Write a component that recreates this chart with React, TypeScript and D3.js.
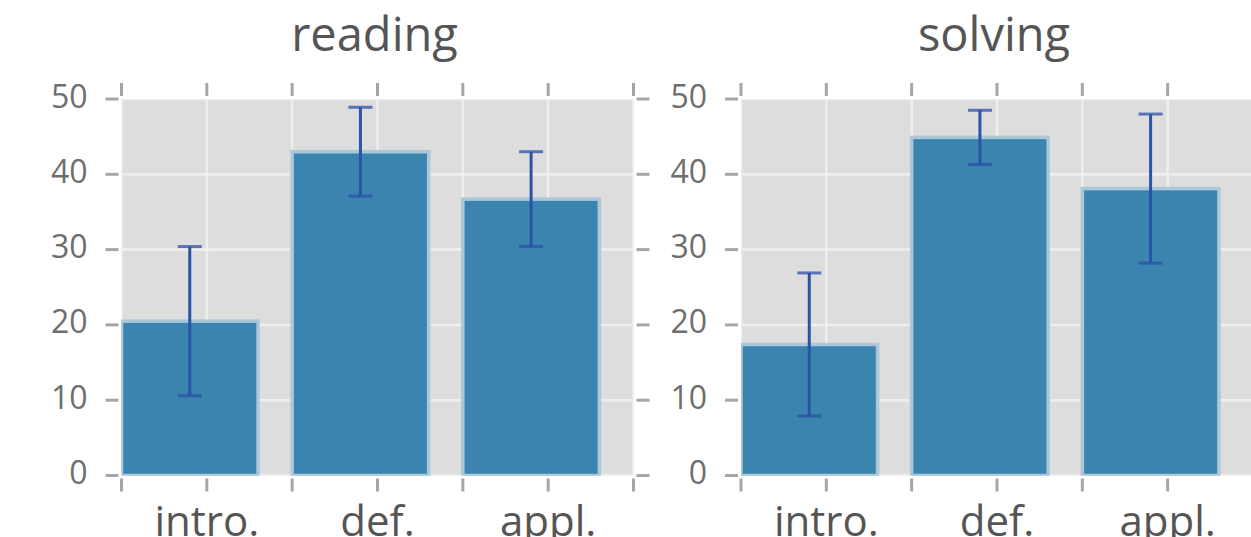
import React from "react";
import * as d3 from "d3";

// Study phases on the x axis
const categories = ["intro.", "def.", "appl."];

// Mean score and error (half-width) per phase
const readingMeans = [20.5, 43.0, 36.7];
const readingErrors = [9.9, 5.9, 6.3];
const solvingMeans = [17.4, 44.9, 38.1];
const solvingErrors = [9.5, 3.6, 9.9];

const yTicks = [0, 10, 20, 30, 40, 50];
const xTicks = [0, 0.5, 1, 1.5, 2, 2.5, 3];

const panels = [
  { title: "reading", means: readingMeans, errors: readingErrors, left: 121.5 },
  { title: "solving", means: solvingMeans, errors: solvingErrors, left: 741 },
];

const W = 1251;
const H = 537;
const PANEL_W = 512;
const TOP = 99;
const BOTTOM = 475.5;

const FONT = "'Open Sans', 'DejaVu Sans', sans-serif";
const BG = "#dddddd";
const GRID = "#efefef";
const TICK = "#a6a6a8";
const BAR = "#3b84af";
const BAR_EDGE = "#aac8d8";
const ERR = "#2a52a8";

function Panel({ title, means, errors, left, idx }: any) {
  const x = d3.scaleLinear().domain([0, 3]).range([left, left + PANEL_W]);
  const y = d3.scaleLinear().domain([0, 50]).range([BOTTOM, TOP]);
  const clipId = `clip-${idx}`;
  const barW = 0.8;
  const capHalf = 12;
  return (
    <g>
      <defs>
        <clipPath id={clipId}>
          <rect x={x(0)} y={y(50)} width={x(3) - x(0)} height={y(0) - y(50)} />
        </clipPath>
      </defs>
      <rect x={x(0)} y={y(50)} width={x(3) - x(0)} height={y(0) - y(50)} fill={BG} />
      {/* grid */}
      <g clipPath={`url(#${clipId})`}>
        {xTicks.map((t) => (
          <line key={"gx" + t} x1={x(t)} x2={x(t)} y1={y(50)} y2={y(0)} stroke={GRID} strokeWidth={2.5} />
        ))}
        {yTicks.map((t) => (
          <line key={"gy" + t} x1={x(0)} x2={x(3)} y1={y(t)} y2={y(t)} stroke={GRID} strokeWidth={2.5} />
        ))}
        {/* bars */}
        {means.map((m: number, i: number) => (
          <rect
            key={"b" + i}
            x={x(i)}
            y={y(m)}
            width={x(i + barW) - x(i)}
            height={y(0) - y(m)}
            fill={BAR}
            stroke={BAR_EDGE}
            strokeWidth={3.5}
          />
        ))}
      </g>
      {/* error bars */}
      {means.map((m: number, i: number) => {
        const cx = x(i + barW / 2);
        const y1 = y(m + errors[i]);
        const y2 = y(m - errors[i]);
        return (
          <g key={"e" + i}>
            <line x1={cx} x2={cx} y1={y1} y2={y2} stroke={ERR} strokeWidth={3} />
            <line x1={cx - capHalf} x2={cx + capHalf} y1={y1} y2={y1} stroke={ERR} strokeWidth={3} strokeOpacity={0.75} />
            <line x1={cx - capHalf} x2={cx + capHalf} y1={y2} y2={y2} stroke={ERR} strokeWidth={3} strokeOpacity={0.75} />
          </g>
        );
      })}
      {/* tick marks, all four sides, pointing outward */}
      {xTicks.map((t) => (
        <g key={"tx" + t}>
          <line x1={x(t)} x2={x(t)} y1={y(50) - 3} y2={y(50) - 16} stroke={TICK} strokeWidth={3} />
          <line x1={x(t)} x2={x(t)} y1={y(0) + 3} y2={y(0) + 16} stroke={TICK} strokeWidth={3} />
        </g>
      ))}
      {yTicks.map((t) => (
        <g key={"ty" + t}>
          <line x1={x(0) - 3} x2={x(0) - 16} y1={y(t)} y2={y(t)} stroke={TICK} strokeWidth={3} />
          <line x1={x(3) + 3} x2={x(3) + 16} y1={y(t)} y2={y(t)} stroke={TICK} strokeWidth={3} />
        </g>
      ))}
      {/* y tick labels */}
      {yTicks.map((t) => (
        <text
          key={"ly" + t}
          x={x(0) - 34}
          y={y(t) + 8.5}
          textAnchor="end"
          fontFamily={FONT}
          fontSize={32}
          fill="#6e6e6e"
        >
          {t}
        </text>
      ))}
      {/* category labels */}
      {categories.map((c, i) => (
        <text
          key={"lx" + c}
          x={x(i + 0.5)}
          y={536}
          textAnchor="middle"
          fontFamily={FONT}
          fontSize={42}
          fill="#555555"
        >
          {c}
        </text>
      ))}
      <text
        x={(x(0) + x(3)) / 2 - 3}
        y={51}
        textAnchor="middle"
        fontFamily={FONT}
        fontSize={47}
        fill="#555555"
      >
        {title}
      </text>
    </g>
  );
}

export default function App() {
  return (
    <svg
      width={W}
      height={H}
      viewBox={`0 0 ${W} ${H}`}
      style={{ position: "absolute", left: 0, top: 0, background: "#ffffff" }}
    >
      <rect x={0} y={0} width={W} height={H} fill="#ffffff" />
      {panels.map((p, i) => (
        <Panel key={p.title} idx={i} {...p} />
      ))}
    </svg>
  );
}
